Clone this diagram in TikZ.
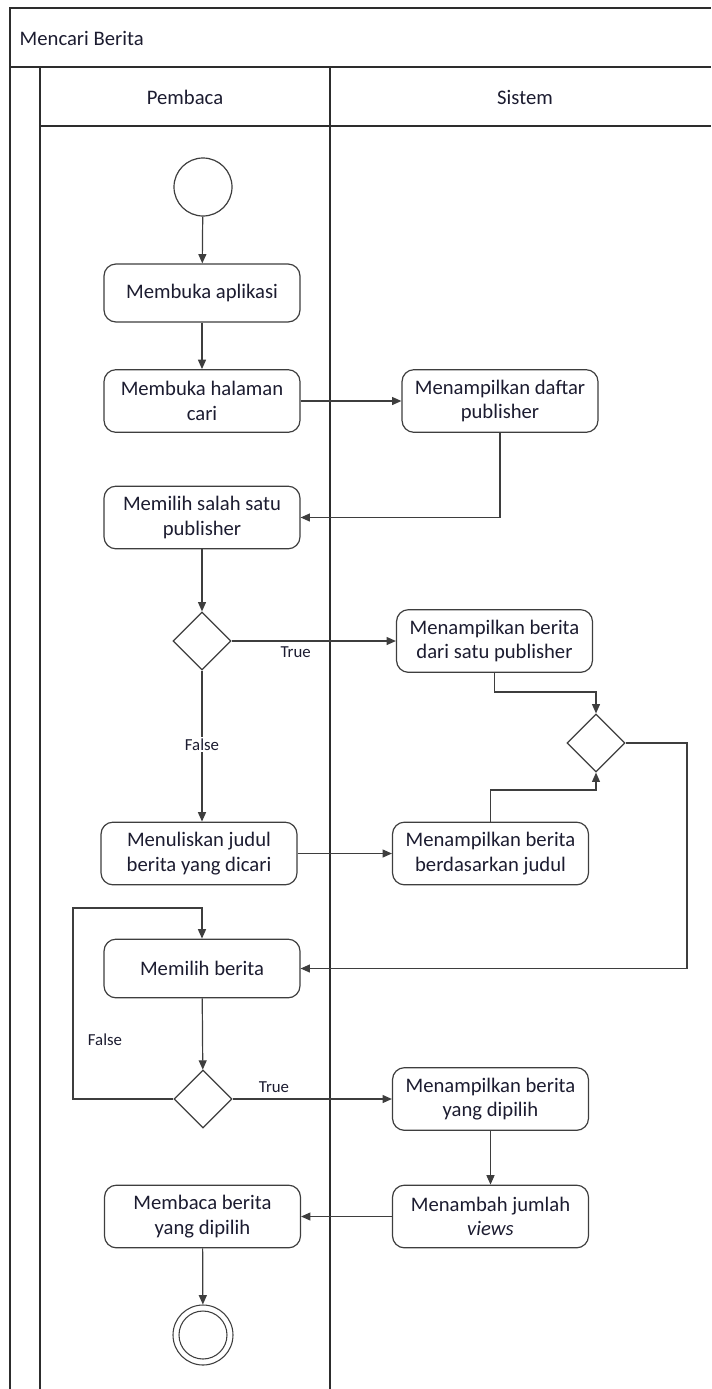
\documentclass[tikz,border=0pt]{standalone}
\usepackage{fontspec}
\setmainfont{Carlito}
\usetikzlibrary{shapes.geometric,arrows.meta,calc}
\definecolor{ink}{RGB}{28,28,48}
\definecolor{edge}{RGB}{62,62,62}
\definecolor{frame}{RGB}{45,45,45}
\begin{document}
\begin{tikzpicture}[x=0.75pt,y=-0.75pt,
  frameline/.style={draw=frame, line width=1.1pt},
  act/.style={draw=edge, line width=0.9pt, rounded corners=9pt,
    minimum width=147pt, minimum height=47pt, align=center,
    font=\fontsize{15.5}{18.5}\selectfont, text=ink, inner sep=2pt},
  dec/.style={diamond, draw=edge, line width=0.9pt,
    minimum width=43.5pt, minimum height=43.5pt, inner sep=0pt},
  startnode/.style={circle, draw=edge, line width=0.9pt, minimum size=43.5pt, inner sep=0pt},
  endouter/.style={circle, draw=edge, line width=0.8pt, minimum size=45pt, inner sep=0pt},
  endinner/.style={circle, draw=edge, line width=0.8pt, minimum size=36pt, inner sep=0pt},
  arr/.style={draw=edge, line width=0.9pt, -{Triangle[length=7pt,width=6pt]}},
  guard/.style={font=\fontsize{12.6}{15}\selectfont, text=ink, inner sep=1pt},
  head/.style={font=\fontsize{15.5}{18.5}\selectfont, text=ink}
]
\useasboundingbox (0,0) rectangle (711,1389);

% swimlane frame
\draw[frameline] (10,1389) -- (10,8) -- (711,8);
\draw[frameline] (10,67) -- (711,67);
\draw[frameline] (40,67) -- (40,1389);
\draw[frameline] (330,67) -- (330,1389);
\draw[frameline] (40,126) -- (711,126);

\node[head, anchor=west] (title) at (15,38) {Mencari Berita};
\node[head] (lanePembaca) at (185,97) {Pembaca};
\node[head] (laneSistem) at (525,97) {Sistem};

% activities
\node[startnode] (start) at (203,187) {};
\node[act, minimum height=43.5pt] (apl) at (202,293) {Membuka aplikasi};
\node[act] (hal) at (202,401) {Membuka halaman\\cari};
\node[act] (daftar) at (500,401) {Menampilkan daftar\\publisher};
\node[act] (salah) at (202,517.5) {Memilih salah satu\\publisher};
\node[dec] (d1) at (202,641) {};
\node[act] (dari) at (494.5,641) {Menampilkan berita\\dari satu publisher};
\node[dec] (d2) at (596,743) {};
\node[act] (tulis) at (199,853.5) {Menuliskan judul\\berita yang dicari};
\node[act] (judul) at (490.5,853.5) {Menampilkan berita\\berdasarkan judul};
\node[act, minimum height=44pt] (pilih) at (202,968.5) {Memilih berita};
\node[dec] (d3) at (203,1099) {};
\node[act] (dipilih) at (490.5,1099) {Menampilkan berita\\yang dipilih};
\node[act] (views) at (490.5,1216.5) {Menambah jumlah\\\textit{views}};
\node[act] (baca) at (202.5,1216.5) {Membaca berita\\yang dipilih};
\node[endouter] (finish) at (203,1335) {};
\node[endinner] (finishin) at (203,1335) {};

% routing points
\coordinate (c1) at (0,692);
\coordinate (c2) at (0,790);
\coordinate (c3) at (687,743);
\coordinate (loop) at (73,908);

% flows
\draw[arr] (start) -- (apl);
\draw[arr] (apl) -- (hal);
\draw[arr] (hal) -- (daftar);
\draw[arr] (daftar.south) |- (salah.east);
\draw[arr] (salah) -- (d1);
\draw[arr] (d1.east) -- node[guard, pos=0.39, below=3pt] (t1) {True} (dari.west);
\draw[arr] (d1.south) -- node[guard, fill=white, pos=0.49] (f1) {False} (d1.south |- tulis.north);
\draw[arr] (tulis) -- (judul);
\draw[arr] (dari.south) -- (dari.south |- c1) -| (d2.north);
\draw[arr] (judul.north) -- (judul.north |- c2) -| (d2.south);
\draw[arr] (d2.east) -- (c3) |- (pilih.east);
\draw[arr] (pilih) -- (d3);
\draw[arr] (d3.east) -- node[guard, pos=0.26, above=3pt] (t2) {True} (dipilih.west);
\draw[arr] (d3.west) -| (loop) -| (pilih.north);
\node[guard] (f2) at (105,1040) {False};
\draw[arr] (dipilih) -- (views);
\draw[arr] (views) -- (baca);
\draw[arr] (baca) -- (finish);
\end{tikzpicture}
\end{document}
